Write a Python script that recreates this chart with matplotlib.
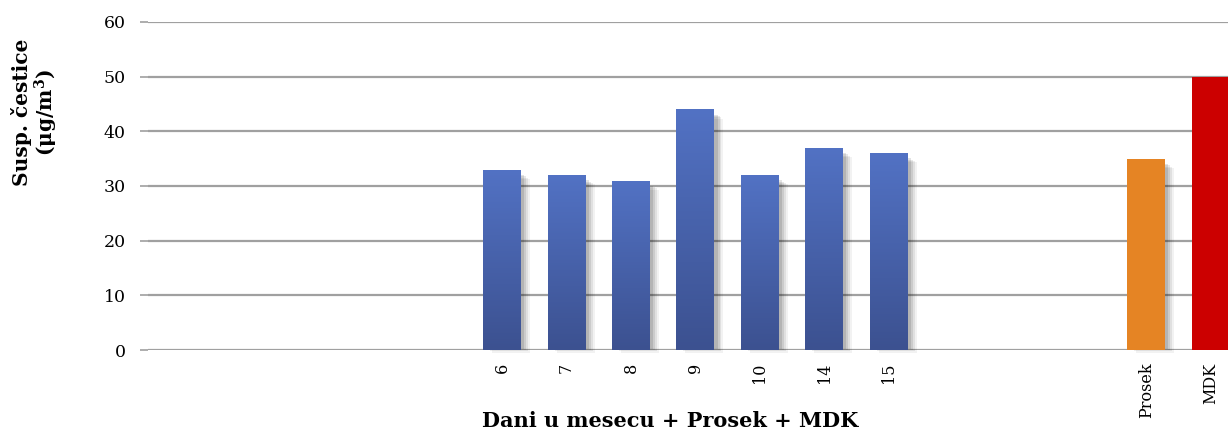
import matplotlib
matplotlib.use("Agg")
import matplotlib.pyplot as plt
import numpy as np
from matplotlib.colors import LinearSegmentedColormap

categories = ["", "", "", "", "", "6", "7", "8", "9", "10", "14", "15", "", "", "", "Prosek", "MDK"]
values = [None, None, None, None, None, 33, 32, 31, 44, 32, 37, 36, None, None, None, 35, 50]
kinds = ["", "", "", "", "", "day", "day", "day", "day", "day", "day", "day", "", "", "", "avg", "lim"]
y_ticks = [0, 10, 20, 30, 40, 50, 60]
y_label = "Susp. čestice\n(μg/m$^{\\mathbf{3}}$)"
x_label = "Dani u mesecu + Prosek + MDK"

plt.rcParams['font.family'] = ['DejaVu Serif']
plt.rcParams['mathtext.fontset'] = 'dejavuserif'

fig = plt.figure(figsize=(12.28, 4.36), dpi=100)
ax = fig.add_axes([148/1228, 86/436, 1 - 148/1228, (350-22)/436])

x = np.arange(len(categories))
width = 0.59
blue_cmap = LinearSegmentedColormap.from_list("b", ["#3c5190", "#5272c4"])

ax.set_ylim(0, 60)
ax.set_xlim(-0.5, 16.27)
ax.set_yticks(y_ticks)
ax.yaxis.grid(True, color="#a0a0a0", linewidth=1.6, zorder=0)
ax.set_axisbelow(True)

for xi, v, k in zip(x, values, kinds):
    if v is None:
        continue
    # soft shadow
    for dx, dy, a in [(0.14, -1.1, 0.05), (0.11, -0.85, 0.07), (0.08, -0.6, 0.09), (0.05, -0.35, 0.11)]:
        ax.bar(xi + dx, v - 1.2, width=width, bottom=dy + 0.6, color="black", alpha=a,
               linewidth=0, zorder=2, clip_on=(k == "lim"))
    if k == "day":
        bars = ax.bar(xi, v, width=width, color="none", linewidth=0, zorder=3)
        rect = bars[0]
        grad = np.linspace(0, 1, 256).reshape(-1, 1)
        im = ax.imshow(grad, cmap=blue_cmap, aspect="auto", origin="lower",
                       extent=[xi - width/2, xi + width/2, 0, v], zorder=3)
        im.set_clip_path(rect)
    elif k == "avg":
        ax.bar(xi, v, width=width, color="#e58424", linewidth=0, zorder=3)
    else:
        ax.bar(xi, v, width=width, color="#cc0000", linewidth=0, zorder=3)

ax.set_xlim(-0.5, 16.27)
ax.set_ylim(0, 60)
ax.set_xticks(x)
ax.set_xticklabels(categories, rotation=90, fontsize=11.5)
ax.tick_params(axis="x", length=0, pad=9)
ax.tick_params(axis="y", length=6, color="#a0a0a0", width=1.2, labelsize=12.5, pad=10)
for s in ax.spines.values():
    s.set_visible(False)

ax.set_xlabel(x_label, fontsize=15, fontweight="bold")
ax.set_ylabel(y_label, fontsize=14.5, fontweight="bold", linespacing=1.05)
ax.xaxis.set_label_coords((670 - 148) / 1080, (350 - 411) / 328)
ax.yaxis.set_label_coords(-(148 - 60) / 1080, (350 - 112) / 328)

fig.savefig("out.png", dpi=100)
